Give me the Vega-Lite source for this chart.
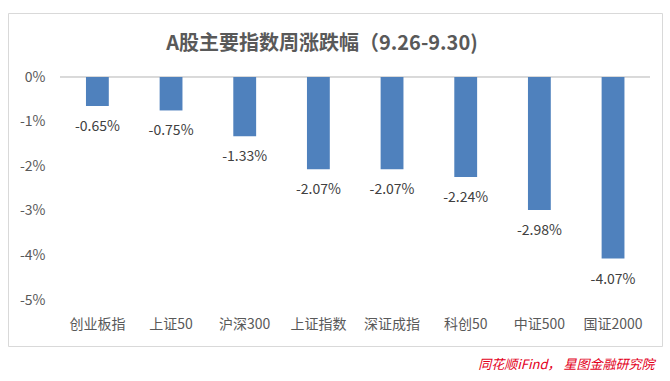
{
  "$schema": "https://vega.github.io/schema/vega-lite/v6.json",
  "autosize": "none",
  "width": 654,
  "height": 333,
  "padding": {"left": 8, "top": 13, "right": 8, "bottom": 35},
  "background": "#ffffff",
  "config": {
    "font": "Noto Sans CJK SC",
    "view": {"stroke": "#d9d9d9", "strokeWidth": 1}
  },
  "title": {
    "text": "A股主要指数周涨跌幅（9.26-9.30)",
    "fontSize": 20,
    "fontWeight": "bold",
    "color": "#595959",
    "anchor": "middle",
    "dx": -13,
    "offset": -41,
    "font": "Noto Sans CJK SC"
  },
  "data": {
    "values": [
      {"index": "创业板指", "change": -0.65, "label": "-0.65%"},
      {"index": "上证50", "change": -0.75, "label": "-0.75%"},
      {"index": "沪深300", "change": -1.33, "label": "-1.33%"},
      {"index": "上证指数", "change": -2.07, "label": "-2.07%"},
      {"index": "深证成指", "change": -2.07, "label": "-2.07%"},
      {"index": "科创50", "change": -2.24, "label": "-2.24%"},
      {"index": "中证500", "change": -2.98, "label": "-2.98%"},
      {"index": "国证2000", "change": -4.07, "label": "-4.07%"}
    ]
  },
  "layer": [
    {
      "mark": {"type": "rule", "color": "#d9d9d9", "strokeWidth": 1},
      "encoding": {
        "x": {"datum": 0, "type": "quantitative", "scale": {"domain": [-0.0881, 1.0203], "nice": false, "zero": false}, "axis": null},
        "x2": {"datum": 1},
        "y": {"datum": 0, "type": "quantitative", "scale": {"domain": [-6.031, 1.435], "nice": false, "zero": false}}
      }
    },
    {
      "layer": [
        {
          "mark": {"type": "bar", "color": "#4f81bd"},
          "encoding": {
            "x": {
              "field": "index",
              "type": "nominal",
              "sort": null,
              "scale": {"paddingInner": 0.69, "paddingOuter": 0.784, "align": 0.675},
              "axis": {
                "orient": "bottom",
                "offset": -31,
                "domain": false,
                "ticks": false,
                "labelAngle": 0,
                "labelPadding": 2,
                "labelFontSize": 14,
                "labelColor": "#595959",
                "labelFont": "Noto Sans CJK SC",
                "title": "同花顺iFind， 星图金融研究院",
                "titleFont": "Noto Sans CJK SC",
                "titleFontSize": 13,
                "titleFontWeight": "normal",
                "titleFontStyle": "italic",
                "titleColor": "#e3001b",
                "titleAnchor": "end",
                "titleX": 646,
                "titlePadding": 27
              }
            },
            "y": {
              "field": "change",
              "type": "quantitative",
              "scale": {"domain": [-6.031, 1.435], "nice": false, "zero": false},
              "axis": {
                "values": [0, -1, -2, -3, -4, -5],
                "labelExpr": "datum.value + '%'",
                "offset": -40,
                "domain": false,
                "ticks": false,
                "grid": false,
                "labelPadding": 3,
                "labelFontSize": 14,
                "labelColor": "#595959",
                "labelFont": "Noto Sans CJK SC",
                "title": null
              }
            }
          }
        },
        {
          "mark": {"type": "text", "baseline": "middle", "dy": 21, "fontSize": 14, "color": "#404040", "font": "Noto Sans CJK SC"},
          "encoding": {
            "x": {"field": "index", "type": "nominal", "sort": null},
            "y": {"field": "change", "type": "quantitative"},
            "text": {"field": "label"}
          }
        }
      ]
    }
  ],
  "resolve": {"scale": {"x": "independent"}}
}
